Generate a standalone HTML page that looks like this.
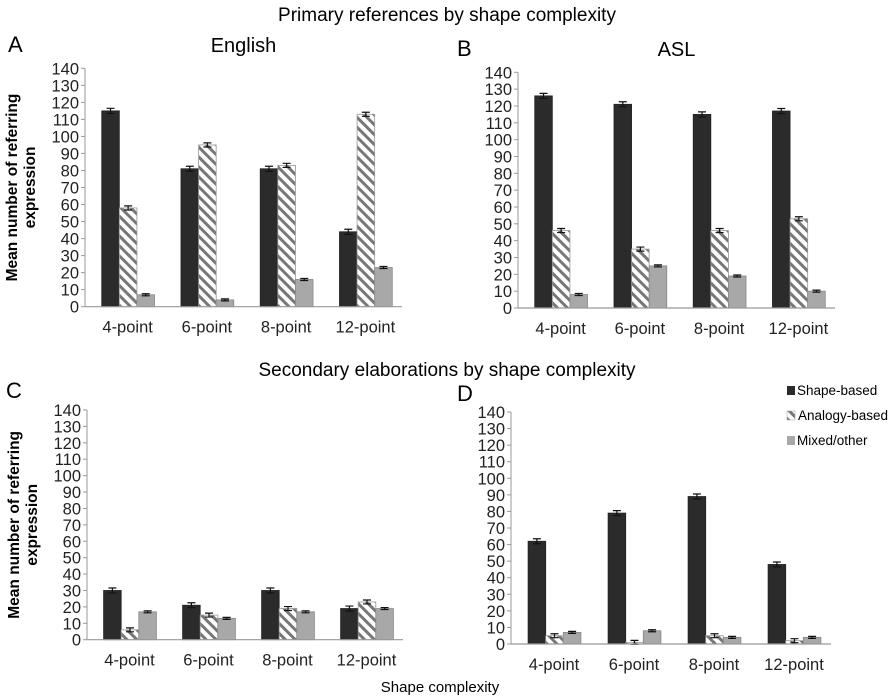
<!DOCTYPE html>
<html><head><meta charset="utf-8"><style>
body{margin:0;background:#fff;}
svg{display:block;font-family:"Liberation Sans",sans-serif;}
</style></head><body>
<svg id="fig" width="894" height="700" viewBox="0 0 894 700">
<defs>
<pattern id="hatch" patternUnits="userSpaceOnUse" width="7" height="7" patternTransform="rotate(-45)">
<rect width="7" height="7" fill="#fff"/><rect x="0" y="0" width="3" height="7" fill="#777"/>
</pattern>
</defs>
<text x="447" y="21" font-size="19" text-anchor="middle">Primary references by shape complexity</text>
<text x="447" y="376" font-size="19" text-anchor="middle">Secondary elaborations by shape complexity</text>
<text x="440" y="692" font-size="15" text-anchor="middle">Shape complexity</text>
<g>
<rect x="787" y="386" width="8" height="9" fill="#2b2b2b"/>
<text x="797" y="395" font-size="13.5">Shape-based</text>
<rect x="787" y="411" width="8" height="9" fill="url(#hatch)" stroke="#999" stroke-width="0.5"/>
<text x="798" y="420" font-size="13.5">Analogy-based</text>
<rect x="787" y="436" width="8" height="9" fill="#a8a8a8"/>
<text x="797" y="445" font-size="13.5">Mixed/other</text>
</g>
</svg>
<script>
const categories = ["4-point","6-point","8-point","12-point"];
const ticks = [0,10,20,30,40,50,60,70,80,90,100,110,120,130,140];
const aShape = [115,81,81,44];
const aAnalogy = [58,95,83,113];
const aMixed = [7,4,16,23];
const bShape = [126,121,115,117];
const bAnalogy = [46,35,46,53];
const bMixed = [8,25,19,10];
const cShape = [30,21,30,19];
const cAnalogy = [6,15,19,23];
const cMixed = [17,13,17,19];
const dShape = [62,79,89,48];
const dAnalogy = [5,1,5,2];
const dMixed = [7,8,4,4];
const errBySeries = [1.5,1.2,0.6];

const NS = "http://www.w3.org/2000/svg";
const svg = document.getElementById('fig');
function mk(tag, attrs, parent){
  const e = document.createElementNS(NS, tag);
  for (const k in attrs) e.setAttribute(k, attrs[k]);
  (parent||svg).appendChild(e);
  return e;
}
const panels = [
  {id:'a', letter:'A', title:'English', x0:85, x1:402, y0:306.7, y140:68.3, lx:8, ly:52, ytitle:true, series:[aShape,aAnalogy,aMixed]},
  {id:'b', letter:'B', title:'ASL', x0:518, x1:835, y0:308, y140:72.3, lx:457, ly:56, ytitle:false, series:[bShape,bAnalogy,bMixed]},
  {id:'c', letter:'C', title:'', x0:87, x1:403, y0:639.7, y140:410, lx:6, ly:398, ytitle:true, series:[cShape,cAnalogy,cMixed]},
  {id:'d', letter:'D', title:'', x0:511, x1:831, y0:644, y140:412, lx:457, ly:401, ytitle:false, series:[dShape,dAnalogy,dMixed]}
];
const fills = ['#2b2b2b','url(#hatch)','#a8a8a8'];
const strokes = ['#222','#999','#888'];
const sNames = ['shape','analogy','mixed'];
panels.forEach(p => {
  const g = mk('g', {});
  
  
  const yS = v => p.y0 - (p.y0 - p.y140) * v / 140;
  const cw = (p.x1 - p.x0) / categories.length;
  const bw = 17.6;
  const L = mk('text', {x:p.lx, y:p.ly, 'font-size':22}, g);
  L.textContent = p.letter;
  
  
  if (p.title){
    const t = mk('text', {x:(p.x0+p.x1)/2, y:p.ly, 'font-size':20, 'text-anchor':'middle'}, g);
    t.textContent = p.title;
    
    
  }
  if (p.ytitle){
    const cy = (p.y0 + p.y140)/2;
    const t = mk('text', {x:0, y:0, 'font-size':15.5, 'font-weight':'bold', 'text-anchor':'middle', transform:`translate(${p.x0-59},${cy}) rotate(-90)`}, g);
    const t1 = mk('tspan', {x:0, dy:-9}, t); t1.textContent = 'Mean number of referring';
    const t2 = mk('tspan', {x:0, dy:18}, t); t2.textContent = 'expression';
    
    
  }
  const ya = mk('line', {x1:p.x0, x2:p.x0, y1:p.y140, y2:p.y0, stroke:'#999', 'stroke-width':1}, g);
  
  
  ticks.forEach(v => {
    mk('line', {x1:p.x0-4, x2:p.x0, y1:yS(v), y2:yS(v), stroke:'#999'}, g);
    const tl = mk('text', {x:p.x0-6, y:yS(v)+6, 'font-size':16.5, 'text-anchor':'end', fill:'#222'}, g);
    tl.textContent = v;
    
    
  });
  categories.forEach((c, i) => {
    const gx = p.x0 + cw*i + cw/2 + 3.5 - bw*1.5;
    p.series.forEach((arr, s) => {
      const v = arr[i];
      const r = mk('rect', {x:gx + s*bw, y:yS(v), width:bw, height:p.y0 - yS(v), fill:fills[s], stroke:strokes[s], 'stroke-width':0.8}, g);
      
      
      const e = errBySeries[s];
      const cx = gx + s*bw + bw/2;
      mk('path', {d:`M${cx-4},${yS(v+e)}H${cx+4}M${cx},${yS(v+e)}V${yS(v-e)}M${cx-4},${yS(v-e)}H${cx+4}`, stroke:'#111', 'stroke-width':1.2, fill:'none'}, g);
    });
    const cl = mk('text', {x:p.x0 + cw*i + cw/2 + 3, y:p.y0 + 26, 'font-size':16.5, 'text-anchor':'middle', fill:'#222'}, g);
    cl.textContent = c;
    
    
  });
  const xa = mk('line', {x1:p.x0, x2:p.x1, y1:p.y0, y2:p.y0, stroke:'#999', 'stroke-width':1.2}, g);
  
  
});
</script>
</body></html>
